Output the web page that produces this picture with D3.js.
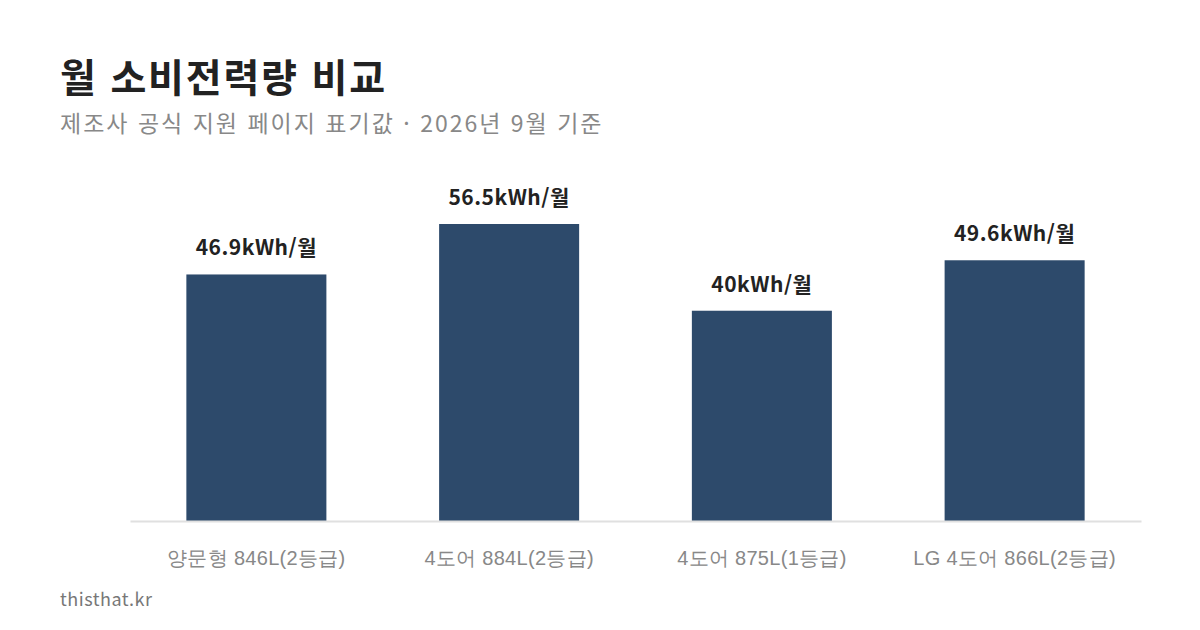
<!DOCTYPE html>
<html lang="ko">
<head>
    <meta charset="UTF-8">
    <title>월 소비전력량 비교</title>
    <script src="https://cdn.jsdelivr.net/npm/d3@7"></script>
    <style>
        body{
            margin: 0;
            background: #fff;
            font-family: "Noto Sans CJK KR", "Noto Sans", sans-serif;
        }
        svg{
            display: block;
        }
        .bar{
            fill: #2d4a6b;
        }
        .value{
            font-size: 21px;
            font-weight: 700;
            fill: #222;
            text-anchor: middle;
            letter-spacing: 0.5px;
        }
        .cat{
            font-size: 20px;
            fill: #888;
            text-anchor: middle;
            letter-spacing: 0.3px;
        }
    </style>
</head>
<body>
<script>
    // data
    const categories = ["양문형 846L(2등급)", "4도어 884L(2등급)", "4도어 875L(1등급)", "LG 4도어 866L(2등급)"];
    const values = [46.9, 56.5, 40, 49.6];
    const valueLabels = ["46.9kWh/월", "56.5kWh/월", "40kWh/월", "49.6kWh/월"];

    const width = 1200, height = 630;
    const margins = {top: 224, bottom: 109, left: 130, right: 59};

    const svg = d3.select("body").append("svg")
        .attr("width", width)
        .attr("height", height)
        .attr("viewBox", `0 0 ${width} ${height}`);

    // title + subtitle
    svg.append("text")
        .attr("x", 60).attr("y", 92)
        .style("font-size", "39px")
        .style("font-weight", "700")
        .style("letter-spacing", "1.8px")
        .style("fill", "#222")
        .text("월 소비전력량 비교");
    svg.append("text")
        .attr("x", 60).attr("y", 132)
        .style("font-size", "23px")
        .style("letter-spacing", "2px")
        .style("fill", "#888")
        .text("제조사 공식 지원 페이지 표기값 · 2026년 9월 기준");

    const rows = categories.map((c, i) => ({cat: c, value: values[i], label: valueLabels[i]}));

    const xScale = d3.scaleBand()
        .domain(categories)
        .range([margins.left, width - margins.right])
        .paddingInner(0.446)
        .paddingOuter(0.223);

    const yScale = d3.scaleLinear()
        .domain([0, d3.max(values)])
        .range([height - margins.bottom, margins.top]);

    // bars
    svg.selectAll(".bar")
        .data(rows)
        .enter()
        .append("rect")
        .attr("class", "bar")
        .attr("x", d => xScale(d.cat))
        .attr("width", xScale.bandwidth())
        .attr("y", d => yScale(d.value))
        .attr("height", d => yScale(0) - yScale(d.value));

    // value labels
    svg.selectAll(".value")
        .data(rows)
        .enter()
        .append("text")
        .attr("class", "value")
        .attr("x", d => xScale(d.cat) + xScale.bandwidth() / 2)
        .attr("y", d => yScale(d.value) - 19)
        .text(d => d.label);

    // baseline axis
    const xAxis = d3.axisBottom(xScale).tickSize(0).tickPadding(30);
    const gx = svg.append("g")
        .attr("transform", `translate(0, ${yScale(0)})`)
        .call(xAxis);
    gx.select(".domain").attr("stroke", "#e0e0e0").attr("stroke-width", 2);
    gx.selectAll("text")
        .attr("class", "cat")
        .attr("font-family", null)
        .attr("font-size", null)
        .attr("fill", null)
        .attr("dy", "0.71em");

    // footer
    svg.append("text")
        .attr("x", 60).attr("y", 606)
        .style("font-size", "18px")
        .style("letter-spacing", "0.5px")
        .style("fill", "#777")
        .text("thisthat.kr");
</script>
</body>
</html>
